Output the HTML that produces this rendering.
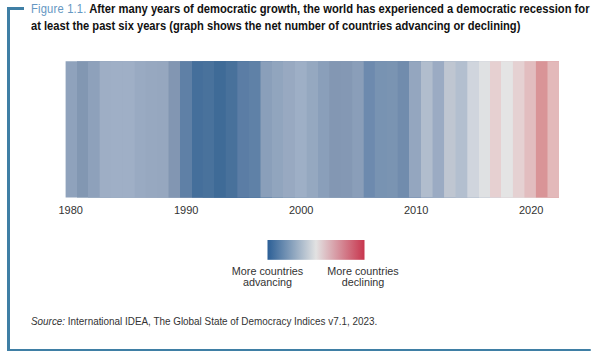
<!DOCTYPE html>
<html><head><meta charset="utf-8"><style>
html,body{margin:0;padding:0;background:#fff;}
body{width:600px;height:362px;position:relative;overflow:hidden;font-family:"Liberation Sans",sans-serif;}
.t{position:absolute;white-space:nowrap;}
</style></head><body>
<div style="position:absolute;left:7px;top:7px;width:17.3px;height:3.4px;background:#3f7fa5"></div>
<div style="position:absolute;left:7px;top:7px;width:3px;height:344px;background:#3f7fa5"></div>
<div style="position:absolute;left:7px;top:348.8px;width:583.7px;height:2.5px;border-radius:0 1.25px 1.25px 0;background:#3f7fa5"></div>
<div class="t" style="left:31px;top:1px;font-size:12px;line-height:16px;font-weight:bold;color:#111;transform:scaleX(0.933);transform-origin:0 0"><span style="font-weight:normal;color:#6597c2;letter-spacing:0.2px">Figure 1.1.</span> After many years of democratic growth, the world has experienced a democratic recession for</div>
<div class="t" style="left:31px;top:17.5px;font-size:12px;line-height:16px;font-weight:bold;color:#111;transform:scaleX(0.929);transform-origin:0 0">at least the past six years (graph shows the net number of countries advancing or declining)</div>
<svg style="position:absolute;left:0;top:0" width="600" height="362">
<rect x="65.6" y="61.25" width="493.4" height="136.25" fill="#8fa2bc"/>
<rect x="77" y="61.25" width="482.0" height="136.25" fill="#8297b2"/>
<rect x="88" y="61.25" width="471.0" height="136.25" fill="#8ea1bb"/>
<rect x="99.7" y="61.25" width="459.3" height="136.25" fill="#9eaec5"/>
<rect x="110.8" y="61.25" width="448.2" height="136.25" fill="#9fafc6"/>
<rect x="122.62" y="61.25" width="436.38" height="136.25" fill="#9fafc6"/>
<rect x="134.7" y="61.25" width="424.3" height="136.25" fill="#99aac2"/>
<rect x="145.58" y="61.25" width="413.42" height="136.25" fill="#97a8c0"/>
<rect x="157" y="61.25" width="402.0" height="136.25" fill="#96a7bf"/>
<rect x="168.54" y="61.25" width="390.46" height="136.25" fill="#8296b2"/>
<rect x="180.02" y="61.25" width="378.98" height="136.25" fill="#5f80a6"/>
<rect x="192" y="61.25" width="367.0" height="136.25" fill="#456f9b"/>
<rect x="202.7" y="61.25" width="356.3" height="136.25" fill="#49729c"/>
<rect x="214" y="61.25" width="345.0" height="136.25" fill="#3f6b97"/>
<rect x="225.7" y="61.25" width="333.3" height="136.25" fill="#48719b"/>
<rect x="237.3" y="61.25" width="321.7" height="136.25" fill="#5b7da5"/>
<rect x="248.9" y="61.25" width="310.1" height="136.25" fill="#5f81a7"/>
<rect x="260.5" y="61.25" width="298.5" height="136.25" fill="#8a9fba"/>
<rect x="272" y="61.25" width="287.0" height="136.25" fill="#91a5be"/>
<rect x="283" y="61.25" width="276.0" height="136.25" fill="#98a9c1"/>
<rect x="295" y="61.25" width="264.0" height="136.25" fill="#9eafc6"/>
<rect x="306.7" y="61.25" width="252.3" height="136.25" fill="#95a8c0"/>
<rect x="318" y="61.25" width="241.0" height="136.25" fill="#8a9fba"/>
<rect x="329.3" y="61.25" width="229.7" height="136.25" fill="#8397b3"/>
<rect x="340.73" y="61.25" width="218.27" height="136.25" fill="#8498b4"/>
<rect x="352.21" y="61.25" width="206.79" height="136.25" fill="#8a9eb9"/>
<rect x="363.69" y="61.25" width="195.31" height="136.25" fill="#6d8aae"/>
<rect x="374.8" y="61.25" width="184.2" height="136.25" fill="#7893b2"/>
<rect x="386.7" y="61.25" width="172.3" height="136.25" fill="#7a94b2"/>
<rect x="397.7" y="61.25" width="161.3" height="136.25" fill="#718cad"/>
<rect x="409" y="61.25" width="150.0" height="136.25" fill="#94a6bf"/>
<rect x="421" y="61.25" width="138.0" height="136.25" fill="#b1bdcd"/>
<rect x="432.57" y="61.25" width="126.43" height="136.25" fill="#9babc3"/>
<rect x="444.05" y="61.25" width="114.95" height="136.25" fill="#bfc6d1"/>
<rect x="455.5" y="61.25" width="103.5" height="136.25" fill="#b3bfcf"/>
<rect x="467.3" y="61.25" width="91.7" height="136.25" fill="#d0d5dd"/>
<rect x="479" y="61.25" width="80.0" height="136.25" fill="#dfe1e3"/>
<rect x="490" y="61.25" width="69.0" height="136.25" fill="#e6d0d1"/>
<rect x="501" y="61.25" width="58.0" height="136.25" fill="#e4e4e4"/>
<rect x="512.93" y="61.25" width="46.07" height="136.25" fill="#e5d1d2"/>
<rect x="524.41" y="61.25" width="34.59" height="136.25" fill="#e2bdbf"/>
<rect x="535.89" y="61.25" width="23.11" height="136.25" fill="#d99497"/>
<rect x="547.5" y="61.25" width="11.5" height="136.25" fill="#e3b9ba"/>
<defs><linearGradient id="g" x1="0" x2="1"><stop offset="0" stop-color="#2c5f96"/><stop offset="0.5" stop-color="#e2e2e2"/><stop offset="1" stop-color="#c8364e"/></linearGradient></defs>
<rect x="267.5" y="240" width="97" height="19.8" fill="url(#g)"/>
</svg>
<div class="t" style="left:58.5px;top:203.7px;font-size:11px;color:#333">1980</div>
<div class="t" style="left:174px;top:203.7px;font-size:11px;color:#333">1990</div>
<div class="t" style="left:289px;top:203.7px;font-size:11px;color:#333">2000</div>
<div class="t" style="left:404px;top:203.7px;font-size:11px;color:#333">2010</div>
<div class="t" style="left:519px;top:203.7px;font-size:11px;color:#333">2020</div>
<div class="t" style="left:231.5px;top:266px;font-size:10.8px;line-height:11px;color:#333;text-align:center;width:72px">More countries<br>advancing</div>
<div class="t" style="left:327px;top:266px;font-size:10.8px;line-height:11px;color:#333;text-align:center;width:72px">More countries<br>declining</div>
<div class="t" style="left:31px;top:314.7px;font-size:11px;color:#333;transform:scaleX(0.899);transform-origin:0 0"><i>Source:</i> International IDEA, The Global State of Democracy Indices v7.1, 2023.</div>
</body></html>
